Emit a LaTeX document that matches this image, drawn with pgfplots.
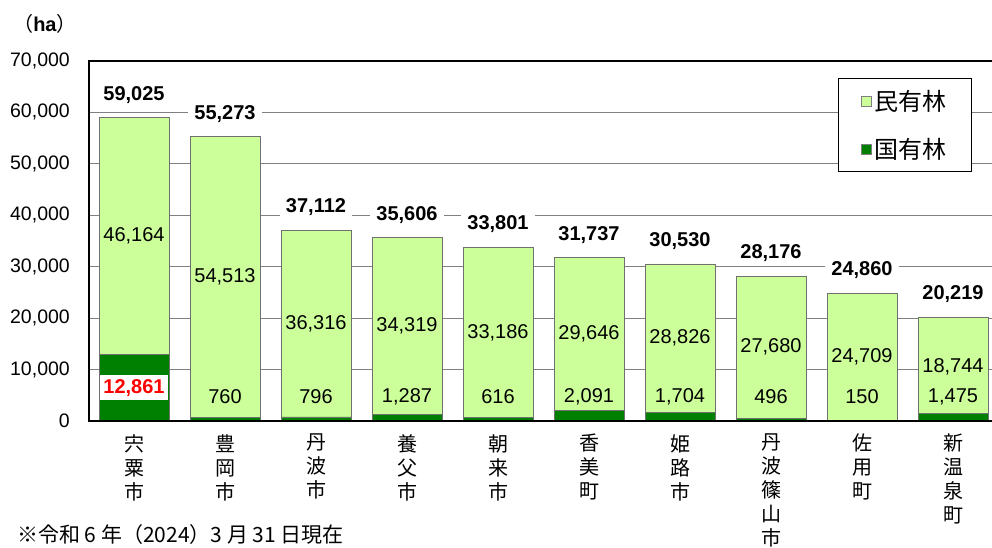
\documentclass[border=0pt]{standalone}
\usepackage{pgfplots}
\pgfplotsset{compat=1.18}
\usepackage{fontspec}
\setmainfont{Liberation Sans}
\newfontfamily\jp{Noto Sans CJK JP}
\definecolor{minyu}{HTML}{CCFF99}
\definecolor{kokuyu}{HTML}{008000}
\definecolor{gridgray}{HTML}{808080}
\definecolor{edgegray}{HTML}{707070}
\tikzset{
  totlab/.style={anchor=south, fill=white, inner xsep=6pt, inner ysep=2pt, yshift=12pt, font=\bfseries\fontsize{20}{22}\selectfont},
  inlab/.style={font=\fontsize{20}{22}\selectfont},
}
\begin{document}
\begin{tikzpicture}[x=1pt,y=1pt]
\begin{axis}[
  at={(89pt,-421pt)}, anchor=south west,
  scale only axis, width=909pt, height=360pt,
  xmin=-0.4945, xmax=9.4945, ymin=0, ymax=70000,
  ybar stacked, bar width=0.769,
  xtick={0,...,9},
  xticklabels={{宍\\粟\\市},{豊\\岡\\市},{丹\\波\\市},{養\\父\\市},{朝\\来\\市},{香\\美\\町},{姫\\路\\市},{丹\\波\\篠\\山\\市},{佐\\用\\町},{新\\温\\泉\\町}},
  ytick={0,10000,20000,30000,40000,50000,60000,70000},
  ymajorgrids, grid style={gridgray, line width=1pt},
  major tick length=0pt,
  axis line style={black, line width=1.5pt},
  scaled y ticks=false,
  /pgf/number format/1000 sep={,},
  /pgf/number format/assume math mode=true,
  yticklabel style={font=\fontsize{19.5}{22}\selectfont, inner sep=0pt, xshift=-19pt},
  xticklabel style={align=center, font=\jp\fontsize{20}{24}\selectfont, anchor=north, inner sep=0pt, yshift=-13pt},
  legend style={at={(axis description cs:0.824,0.953)}, anchor=north west, draw=black, line width=1pt, fill=white,
    font=\jp\fontsize{24}{28}\selectfont, row sep=24pt, inner xsep=22pt, inner ysep=11pt,
    nodes={inner xsep=3pt, inner ysep=1pt}},
  legend cell align=left,
  legend image code/.code={\draw[#1, draw=gray, line width=0.6pt] (0pt,-5pt) rectangle (10pt,5pt);},
]
\addlegendimage{fill=minyu}
\addlegendimage{fill=kokuyu}
\addplot[fill=kokuyu, draw=edgegray, line width=0.8pt, forget plot]
  coordinates {(0,12861) (1,760) (2,796) (3,1287) (4,616) (5,2091) (6,1704) (7,496) (8,150) (9,1475)};
\addplot[fill=minyu, draw=edgegray, line width=0.8pt, forget plot]
  coordinates {(0,46164) (1,54513) (2,36316) (3,34319) (4,33186) (5,29646) (6,28826) (7,27680) (8,24709) (9,18744)};
\legend{民有林,国有林}
% totals
\coordinate (t0) at (axis cs:0,59025);
\coordinate (t1) at (axis cs:1,55273);
\coordinate (t2) at (axis cs:2,37112);
\coordinate (t3) at (axis cs:3,35606);
\coordinate (t4) at (axis cs:4,33802);
\coordinate (t5) at (axis cs:5,31737);
\coordinate (t6) at (axis cs:6,30530);
\coordinate (t7) at (axis cs:7,28176);
\coordinate (t8) at (axis cs:8,24859);
\coordinate (t9) at (axis cs:9,20219);
% private forest label positions
\coordinate (p0) at (axis cs:0,35943);
\coordinate (p1) at (axis cs:1,28016);
\coordinate (p2) at (axis cs:2,18954);
\coordinate (p3) at (axis cs:3,18446);
\coordinate (p4) at (axis cs:4,17209);
\coordinate (p5) at (axis cs:5,16914);
\coordinate (p6) at (axis cs:6,16117);
\coordinate (p7) at (axis cs:7,14336);
\coordinate (p8) at (axis cs:8,12505);
\coordinate (p9) at (axis cs:9,10600);
% national forest label positions
\coordinate (n0) at (axis cs:0,6430);
\coordinate (n1) at (axis cs:1,4700);
\coordinate (n2) at (axis cs:2,4700);
\coordinate (n3) at (axis cs:3,4700);
\coordinate (n4) at (axis cs:4,4700);
\coordinate (n5) at (axis cs:5,4700);
\coordinate (n6) at (axis cs:6,4700);
\coordinate (n7) at (axis cs:7,4700);
\coordinate (n8) at (axis cs:8,4700);
\coordinate (n9) at (axis cs:9,4700);
\coordinate (bl) at (rel axis cs:0,0);
\coordinate (br) at (rel axis cs:1,0);
\end{axis}
\draw[black, line width=2.5pt] (bl) -- (br);
\node[totlab] at (t0) {59,025};
\node[totlab] at (t1) {55,273};
\node[totlab] at (t2) {37,112};
\node[totlab] at (t3) {35,606};
\node[totlab] at (t4) {33,801};
\node[totlab] at (t5) {31,737};
\node[totlab] at (t6) {30,530};
\node[totlab] at (t7) {28,176};
\node[totlab] at (t8) {24,860};
\node[totlab] at (t9) {20,219};
\node[inlab] at (p0) {46,164};
\node[inlab] at (p1) {54,513};
\node[inlab] at (p2) {36,316};
\node[inlab] at (p3) {34,319};
\node[inlab] at (p4) {33,186};
\node[inlab] at (p5) {29,646};
\node[inlab] at (p6) {28,826};
\node[inlab] at (p7) {27,680};
\node[inlab] at (p8) {24,709};
\node[inlab] at (p9) {18,744};
\node[fill=white, inner xsep=3pt, inner ysep=4pt, text=red, font=\bfseries\fontsize{20}{22}\selectfont] at (n0) {12,861};
\node[inlab] at (n1) {760};
\node[inlab] at (n2) {796};
\node[inlab] at (n3) {1,287};
\node[inlab] at (n4) {616};
\node[inlab] at (n5) {2,091};
\node[inlab] at (n6) {1,704};
\node[inlab] at (n7) {496};
\node[inlab] at (n8) {150};
\node[inlab] at (n9) {1,475};
\node[font=\fontsize{20}{22}\selectfont, inner sep=0pt] at (45,-24) {{\jp （}\textbf{ha}{\jp ）}};
\node[anchor=south west, font=\jp\fontsize{21}{24}\selectfont, inner sep=0pt] at (17,-545) {※令和 6 年（2024）3 月 31 日現在};
\pgfresetboundingbox
\useasboundingbox (0,0) rectangle (992,-547);
\end{tikzpicture}
\end{document}
